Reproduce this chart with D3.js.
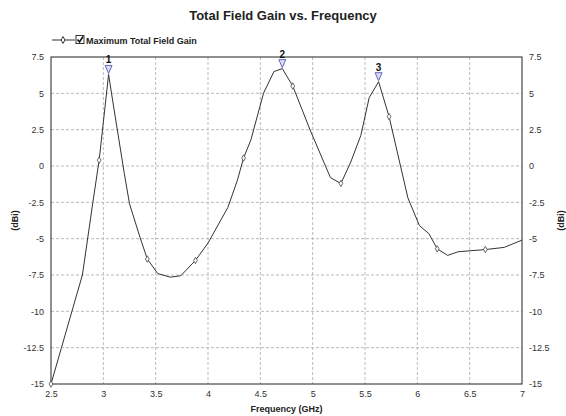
<!DOCTYPE html>
<html>
<head>
<meta charset="utf-8">
<script src="https://cdn.jsdelivr.net/npm/d3@7"></script>
<style>
  body { margin: 0; background: #fff; }
  text { font-family: "Liberation Sans", Arial, sans-serif; }
</style>
</head>
<body>
<div id="vis"></div>
<script>
// values
var freq = [2.5, 2.6, 2.7, 2.8, 2.9, 2.96, 3.0, 3.05, 3.1, 3.2, 3.25, 3.35, 3.42, 3.52,
            3.64, 3.74, 3.88, 4.0, 4.19, 4.28, 4.34, 4.41, 4.53, 4.63, 4.71, 4.81, 4.98,
            5.17, 5.27, 5.36, 5.46, 5.54, 5.63, 5.73, 5.91, 6.02, 6.11, 6.19, 6.29, 6.39,
            6.65, 6.83, 7.0];
var gain = [-15, -12.5, -10.0, -7.5, -2.5, 0.4, 3.0, 6.3, 4.0, -0.5, -2.6, -4.9, -6.4, -7.4,
            -7.65, -7.55, -6.5, -5.3, -2.85, -1.0, 0.55, 1.8, 5.0, 6.5, 6.7, 5.5, 2.4,
            -0.8, -1.2, 0.2, 2.1, 4.7, 5.8, 3.4, -2.2, -4.1, -4.65, -5.7, -6.15, -5.9,
            -5.75, -5.6, -5.1];
// points that carry a diamond symbol
var symbolFreqs = [2.5, 2.96, 3.42, 3.88, 4.34, 4.81, 5.27, 5.73, 6.19, 6.65];
// peak markers
var peakLabels = ["1", "2", "3"];
var peakFreqs = [3.05, 4.71, 5.63];

var xTicks = [2.5, 3, 3.5, 4, 4.5, 5, 5.5, 6, 6.5, 7];
var yTicks = [7.5, 5, 2.5, 0, -2.5, -5, -7.5, -10, -12.5, -15];

var width = 566;
var height = 416;
var margin = { top: 57, right: 44, bottom: 32, left: 51 };

var svg = d3.select('#vis')
    .append('svg')
    .attr('width', width)
    .attr('height', height);

var x = d3.scaleLinear().domain([2.5, 7]).range([margin.left, width - margin.right]);
var y = d3.scaleLinear().domain([-15, 7.5]).range([height - margin.bottom, margin.top]);

var points = freq.map((f, i) => ({ f: f, g: gain[i] }));

// title
svg.append('text')
    .attr('x', 283).attr('y', 20)
    .attr('text-anchor', 'middle')
    .style('font-size', '13px').style('font-weight', 'bold')
    .attr('fill', '#222')
    .text('Total Field Gain vs. Frequency');

// legend
var lg = svg.append('g').attr('transform', 'translate(52,40)');
lg.append('line').attr('x1', 0).attr('x2', 23).attr('y1', 0).attr('y2', 0)
    .attr('stroke', '#333').attr('stroke-width', 1);
lg.append('path').attr('d', d3.symbol(d3.symbolDiamond, 14)())
    .attr('transform', 'translate(11,0)')
    .attr('fill', '#fff').attr('stroke', '#333');
lg.append('rect').attr('x', 24).attr('y', -4.5).attr('width', 8).attr('height', 8)
    .attr('fill', '#fff').attr('stroke', '#333');
lg.append('path').attr('d', 'M25.5,-0.5 L27.5,2 L31,-3.5')
    .attr('fill', 'none').attr('stroke', '#111').attr('stroke-width', 1.6);
lg.append('text').attr('x', 34).attr('y', 3.5)
    .style('font-size', '9px').style('font-weight', 'bold')
    .attr('fill', '#222')
    .text('Maximum Total Field Gain');

// grid
var grid = svg.append('g');
grid.selectAll('.gx').data(xTicks.slice(1, -1)).enter()
    .append('line')
    .attr('x1', d => x(d)).attr('x2', d => x(d))
    .attr('y1', y(7.5)).attr('y2', y(-15))
    .attr('stroke', '#bbb').attr('stroke-dasharray', '3,2');
grid.selectAll('.gy').data(yTicks.slice(1, -1)).enter()
    .append('line')
    .attr('x1', x(2.5)).attr('x2', x(7))
    .attr('y1', d => y(d)).attr('y2', d => y(d))
    .attr('stroke', '#bbb').attr('stroke-dasharray', '3,2');

// axes (plain hyphen minus like the original)
var fmt = d => String(d);
var axisLeft = d3.axisLeft(y).tickValues(yTicks).tickSize(0).tickPadding(7).tickFormat(fmt);
var axisRight = d3.axisRight(y).tickValues(yTicks).tickSize(0).tickPadding(7).tickFormat(fmt);
var axisBottom = d3.axisBottom(x).tickValues(xTicks).tickSize(0).tickPadding(7).tickFormat(fmt);

function styleAxis(g) {
    g.select('.domain').remove();
    g.selectAll('text').style('font-size', '9px').attr('fill', '#333');
}

svg.append('g').attr('transform', 'translate(' + margin.left + ',0)').call(axisLeft).call(styleAxis);
svg.append('g').attr('transform', 'translate(' + (width - margin.right) + ',0)').call(axisRight).call(styleAxis);
svg.append('g').attr('transform', 'translate(0,' + (height - margin.bottom) + ')').call(axisBottom).call(styleAxis);

// frame
svg.append('rect')
    .attr('x', x(2.5)).attr('y', y(7.5))
    .attr('width', x(7) - x(2.5)).attr('height', y(-15) - y(7.5))
    .attr('fill', 'none').attr('stroke', '#222').attr('stroke-width', 1);

// axis titles
svg.append('text')
    .attr('transform', 'translate(18,' + y(-3.75) + ') rotate(-90)')
    .attr('text-anchor', 'middle')
    .style('font-size', '9px').style('font-weight', 'bold').attr('fill', '#222')
    .text('(dBi)');
svg.append('text')
    .attr('transform', 'translate(564,' + y(-3.75) + ') rotate(-90)')
    .attr('text-anchor', 'middle')
    .style('font-size', '9px').style('font-weight', 'bold').attr('fill', '#222')
    .text('(dBi)');
svg.append('text')
    .attr('x', x(4.75)).attr('y', 412)
    .attr('text-anchor', 'middle')
    .style('font-size', '9px').style('font-weight', 'bold').attr('fill', '#222')
    .text('Frequency (GHz)');

// curve
var line = d3.line().x(d => x(d.f)).y(d => y(d.g));
svg.append('path')
    .datum(points)
    .attr('d', line)
    .attr('fill', 'none')
    .attr('stroke', '#333')
    .attr('stroke-width', 1);

svg.selectAll('.sym')
    .data(points.filter(p => symbolFreqs.indexOf(p.f) >= 0))
    .enter()
    .append('path')
    .attr('d', d3.symbol(d3.symbolDiamond, 12)())
    .attr('transform', d => 'translate(' + x(d.f) + ',' + y(d.g) + ')')
    .attr('fill', '#fff')
    .attr('stroke', '#444')
    .attr('stroke-width', 0.8);

// peak markers
var peaks = peakFreqs.map((f, i) => ({ f: f, g: gain[freq.indexOf(f)], label: peakLabels[i] }));
var pm = svg.selectAll('.peak').data(peaks).enter()
    .append('g')
    .attr('transform', d => 'translate(' + x(d.f) + ',' + y(d.g) + ')');
pm.append('path')
    .attr('d', 'M-3.5,-9 L3.5,-9 L0,-1 Z')
    .attr('fill', '#dcdcf4')
    .attr('stroke', '#6666bb')
    .attr('stroke-width', 1);
pm.append('text')
    .attr('x', 0).attr('y', -11)
    .attr('text-anchor', 'middle')
    .style('font-size', '10px').style('font-weight', 'bold')
    .attr('fill', '#111')
    .text(d => d.label);
</script>
</body>
</html>
